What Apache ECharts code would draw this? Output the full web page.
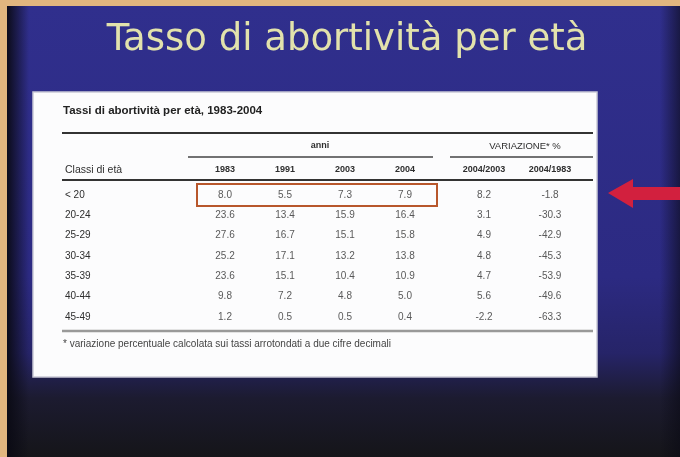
<!DOCTYPE html>
<html>
<head>
<meta charset="utf-8">
<script src="https://cdn.jsdelivr.net/npm/echarts@6/dist/echarts.min.js"></script>
<style>
	html, body { margin: 0; padding: 0; background: #e1b67f; }
	#main { width: 680px; height: 457px; }
</style>
</head>
<body>
<div id="main"></div>
<script>
// righe (classi di età) e colonne
var ages = ['< 20', '20-24', '25-29', '30-34', '35-39', '40-44', '45-49'];
var years = ['1983', '1991', '2003', '2004'];
var varCols = ['2004/2003', '2004/1983'];

// tassi per anno
var rate1983 = [8.0, 23.6, 27.6, 25.2, 23.6, 9.8, 1.2];
var rate1991 = [5.5, 13.4, 16.7, 17.1, 15.1, 7.2, 0.5];
var rate2003 = [7.3, 15.9, 15.1, 13.2, 10.4, 4.8, 0.5];
var rate2004 = [7.9, 16.4, 15.8, 13.8, 10.9, 5.0, 0.4];

// variazioni percentuali
var var0403 = [8.2, 3.1, 4.9, 4.8, 4.7, 5.6, -2.2];
var var0483 = [-1.8, -30.3, -42.9, -45.3, -53.9, -49.6, -63.3];

(function(){

	init();

	function init(){
		var chart = echarts.init(document.getElementById('main'));

		var rateCols = [rate1983, rate1991, rate2003, rate2004];
		var varData = [var0403, var0483];

		// celle: [colonna, riga, valore]
		var cells1 = [];
		rateCols.forEach(function(col, c){
			col.forEach(function(v, r){ cells1.push([c, r, v]); });
		});
		var cells2 = [];
		varData.forEach(function(col, c){
			col.forEach(function(v, r){ cells2.push([c, r, v]); });
		});

		var txt = '#2e2e2e';
		var font = 'Liberation Sans';

		var cellLabel = {
			show: true,
			position: 'inside',
			color: txt,
			fontFamily: font,
			fontSize: 10,
			formatter: function(p){ return p.value[2].toFixed(1); }
		};

		var option = {
			backgroundColor: '#e1b67f',
			animation: false,
			graphic: [
				// sfondo della diapositiva
				{
					type: 'rect', z: -10,
					shape: { x: 7, y: 6, width: 673, height: 451 },
					style: {
						fill: new echarts.graphic.LinearGradient(0, 0, 0, 1, [
							{ offset: 0, color: '#302f8d' },
							{ offset: 0.6, color: '#2c2a82' },
							{ offset: 0.77, color: '#262468' },
							{ offset: 0.87, color: '#1c1b30' },
							{ offset: 1, color: '#151519' }
						])
					}
				},
				{
					type: 'rect', z: -9,
					shape: { x: 7, y: 6, width: 22, height: 451 },
					style: {
						fill: new echarts.graphic.LinearGradient(0, 0, 1, 0, [
							{ offset: 0, color: 'rgba(10,10,20,0.95)' },
							{ offset: 1, color: 'rgba(10,10,20,0)' }
						])
					}
				},
				{
					type: 'rect', z: -9,
					shape: { x: 660, y: 6, width: 20, height: 451 },
					style: {
						fill: new echarts.graphic.LinearGradient(0, 0, 1, 0, [
							{ offset: 0, color: 'rgba(10,10,20,0)' },
							{ offset: 1, color: 'rgba(10,10,20,0.6)' }
						])
					}
				},
				// titolo
				{
					type: 'text', z: 5,
					x: 347, y: 40,
					style: {
						text: 'Tasso di abortività per età',
						fill: '#e2e2ac',
						font: '37px "DejaVu Sans"',
						align: 'center', verticalAlign: 'middle'
					}
				},
				// riquadro bianco della tabella
				{
					type: 'rect', z: -5,
					shape: { x: 33, y: 92, width: 564, height: 285 },
					style: { fill: '#fcfcfd', stroke: '#c9c9d6', lineWidth: 1.5 }
				},
				{
					type: 'text', z: 5, x: 63, y: 111,
					style: {
						text: 'Tassi di abortività per età, 1983-2004',
						fill: '#222', font: 'bold 11.5px "Liberation Sans"',
						verticalAlign: 'middle'
					}
				},
				{
					type: 'text', z: 5, x: 320, y: 146,
					style: { text: 'anni', fill: txt, font: 'bold 9px "Liberation Sans"', align: 'center', verticalAlign: 'middle' }
				},
				{
					type: 'text', z: 5, x: 525, y: 146,
					style: { text: 'VARIAZIONE* %', fill: txt, font: '9.5px "Liberation Sans"', align: 'center', verticalAlign: 'middle' }
				},
				{
					type: 'text', z: 5, x: 65, y: 170,
					style: { text: 'Classi di età', fill: txt, font: '10.5px "Liberation Sans"', verticalAlign: 'middle' }
				},
				{
					type: 'text', z: 5, x: 63, y: 344,
					style: {
						text: '* variazione percentuale calcolata sui tassi arrotondati a due cifre decimali',
						fill: '#444', font: '10px "Liberation Sans"', verticalAlign: 'middle'
					}
				},
				// filetti
				{ type: 'line', z: 4, shape: { x1: 62, y1: 133, x2: 593, y2: 133 }, style: { stroke: '#333', lineWidth: 2 } },
				{ type: 'line', z: 4, shape: { x1: 188, y1: 157, x2: 433, y2: 157 }, style: { stroke: '#444', lineWidth: 1.5 } },
				{ type: 'line', z: 4, shape: { x1: 450, y1: 157, x2: 593, y2: 157 }, style: { stroke: '#444', lineWidth: 1.5 } },
				{ type: 'line', z: 4, shape: { x1: 62, y1: 180, x2: 593, y2: 180 }, style: { stroke: '#333', lineWidth: 2 } },
				{ type: 'line', z: 4, shape: { x1: 62, y1: 331, x2: 593, y2: 331 }, style: { stroke: '#999', lineWidth: 2.5 } },
				// riquadro evidenziato
				{
					type: 'rect', z: 6,
					shape: { x: 197, y: 184, width: 240, height: 22 },
					style: { fill: 'none', stroke: '#b8572c', lineWidth: 2 }
				},
				// freccia
				{
					type: 'polygon', z: 6,
					shape: { points: [[608, 193], [633, 179], [633, 187], [680, 187], [680, 200], [633, 200], [633, 208]] },
					style: { fill: '#d2203e' }
				}
			],
			grid: [
				{ left: 195, top: 185, width: 240, height: 142 },
				{ left: 451, top: 185, width: 132, height: 142 }
			],
			xAxis: [
				{
					type: 'category', gridIndex: 0, position: 'top', data: years,
					axisLine: { show: false }, axisTick: { show: false }, splitLine: { show: false },
					axisLabel: { color: txt, fontFamily: font, fontWeight: 'bold', fontSize: 9, margin: 15, verticalAlign: 'middle' }
				},
				{
					type: 'category', gridIndex: 1, position: 'top', data: varCols,
					axisLine: { show: false }, axisTick: { show: false }, splitLine: { show: false },
					axisLabel: { color: txt, fontFamily: font, fontWeight: 'bold', fontSize: 9, margin: 15, verticalAlign: 'middle' }
				}
			],
			yAxis: [
				{
					type: 'category', gridIndex: 0, inverse: true, data: ages,
					axisLine: { show: false }, axisTick: { show: false }, splitLine: { show: false },
					axisLabel: { color: txt, fontFamily: font, fontSize: 10, align: 'left', margin: 130 }
				},
				{
					type: 'category', gridIndex: 1, inverse: true, data: ages, show: false
				}
			],
			series: [
				{
					name: 'tassi',
					type: 'scatter',
					xAxisIndex: 0, yAxisIndex: 0,
					symbolSize: 1,
					itemStyle: { color: 'rgba(0,0,0,0)' },
					label: cellLabel,
					data: cells1
				},
				{
					name: 'variazioni',
					type: 'scatter',
					xAxisIndex: 1, yAxisIndex: 1,
					symbolSize: 1,
					itemStyle: { color: 'rgba(0,0,0,0)' },
					label: cellLabel,
					data: cells2
				}
			]
		};
		chart.setOption(option);
	}

})();
</script>
</body>
</html>
